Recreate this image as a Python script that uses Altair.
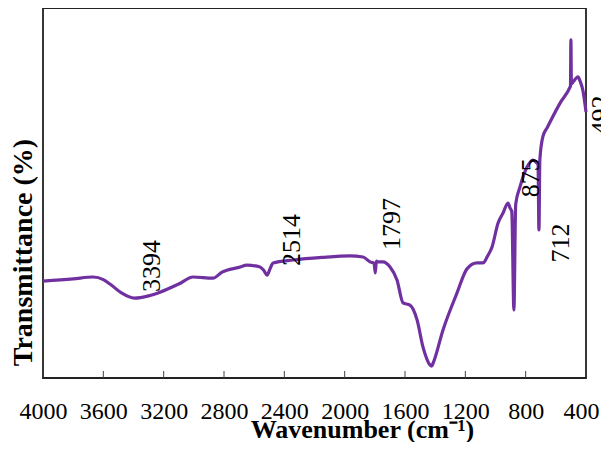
import altair as alt
import pandas as pd

wavenumber = [4000, 3800, 3668, 3600, 3556, 3480, 3394, 3300, 3224, 3100, 3005, 2873, 2813, 2700,
              2648, 2561, 2535, 2514, 2495, 2475, 2342, 2150, 1965, 1878, 1832, 1805, 1797, 1790,
              1786, 1746, 1699, 1653, 1613, 1567, 1520, 1481, 1434, 1424, 1414, 1348, 1255, 1189,
              1122, 1083, 1070, 1056, 1023, 983, 950, 917, 904, 892, 878, 866, 838, 791, 751, 725,
              718, 712, 706, 685, 658, 572, 506, 503, 500, 497, 486, 453, 440, 420, 400]
transmittance = [26.2, 26.8, 27.3, 26.6, 25.4, 23.0, 21.6, 22.2, 23.2, 25.4, 27.3, 27.0, 28.6, 29.9,
                 30.5, 30.0, 29.0, 27.8, 29.5, 31.1, 31.9, 32.6, 33.0, 32.7, 31.4, 31.0, 28.4, 31.6,
                 31.4, 31.4, 30.0, 26.5, 20.3, 19.7, 15.7, 8.4, 3.5, 3.2, 4.0, 13.0, 23.0, 29.5,
                 31.1, 31.1, 31.6, 32.7, 35.4, 41.9, 44.6, 47.3, 46.0, 45.0, 18.4, 47.0, 51.6, 57.0,
                 58.9, 58.1, 57.8, 40.0, 59.0, 65.4, 67.6, 74.3, 78.6, 78.9, 91.4, 79.5, 80.0, 81.4,
                 80.3, 77.6, 71.9]

peak_labels = ["3394", "2514", "1797", "875", "712", "492"]
label_x = [3277, 2349, 1686, 765, 566, 300]
label_y = [30.3, 37.3, 41.6, 54.1, 36.5, 71.1]

tick_values = [4000, 3600, 3200, 2800, 2400, 2000, 1600, 1200, 800, 400]
inner_ticks = [3600, 3200, 2800, 2400, 2000, 1600, 1200, 800]

spec = pd.DataFrame({"w": wavenumber, "t": transmittance})
labels = pd.DataFrame({"w": label_x, "t": label_y, "txt": peak_labels})
ticks = pd.DataFrame({"w": inner_ticks})

FONT = "Liberation Serif"

xscale = alt.Scale(domain=[400, 4000], reverse=True, nice=False, zero=False)
yscale = alt.Scale(domain=[0, 100], nice=False, zero=False)

line = alt.Chart(spec).mark_line(color="#7030A0", strokeWidth=3.2, interpolate="monotone").encode(
    x=alt.X("w:Q", scale=xscale,
            axis=alt.Axis(values=tick_values, format="d", ticks=False, domain=False, grid=False,
                          labelFont=FONT, labelFontSize=24, labelColor="black",
                          labelBaseline="middle", labelPadding=33, labelFlush=False,
                          labelOverlap=False,
                          labelOffset=alt.ExprRef("datum.value == 400 ? -5 : 0"),
                          title="Wavenumber (cm\u207b\u00b9)", titleFont=FONT, titleFontSize=26,
                          titleFontWeight="bold", titleColor="black", titleX=319, titleY=51,
                          titleAlign="center", titleBaseline="middle")),
    y=alt.Y("t:Q", scale=yscale,
            axis=alt.Axis(labels=False, ticks=False, domain=False, grid=False,
                          title="Transmittance (%)", titleFont=FONT, titleFontSize=28,
                          titleFontWeight="bold", titleColor="black", titleX=-20, titleY=244,
                          titleAngle=270, titleAlign="center", titleBaseline="middle")),
)

tick_marks = alt.Chart(ticks).mark_rule(color="#444444", strokeWidth=1).encode(
    x=alt.X("w:Q", scale=xscale),
    y=alt.value(370),
    y2=alt.value(363),
)

text = alt.Chart(labels).mark_text(font=FONT, fontSize=26, angle=270, align="center",
                                   baseline="middle", color="black").encode(
    x=alt.X("w:Q", scale=xscale),
    y=alt.Y("t:Q", scale=yscale),
    text="txt:N",
)

chart = alt.layer(tick_marks, line, text).properties(
    width=543, height=370,
    padding={"left": 35, "top": 0, "right": 15, "bottom": 64},
    autosize=alt.AutoSizeParams(type="none"),
).configure_view(stroke="#222222", strokeWidth=1.8)

chart.save("out.html", embed_options={"renderer": "svg", "actions": False})
